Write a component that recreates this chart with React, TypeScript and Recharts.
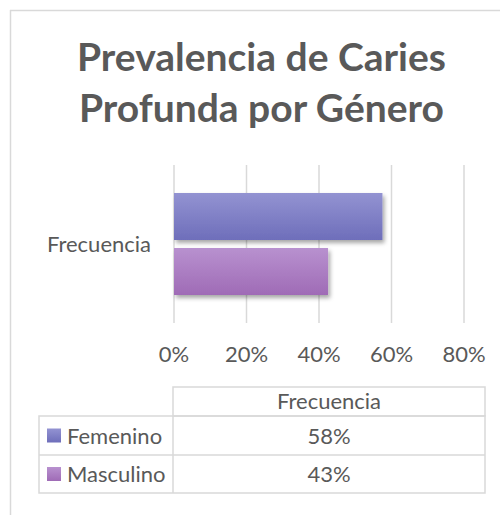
import React from 'react';
import { BarChart, Bar, XAxis, YAxis, CartesianGrid } from 'recharts';

const categories = ['Frecuencia'];
const seriesNames = ['Femenino', 'Masculino'];
const femenino = [57.5];
const masculino = [42.5];
const xTicks = [0, 20, 40, 60, 80];
const titleLines = ['Prevalencia de Caries', 'Profunda por Género'];

const seriesValues = [femenino, masculino];
const seriesColors = [
  { top: '#9393d2', bottom: '#6e6eba', id: 'gradF' },
  { top: '#b891cf', bottom: '#9f6bb6', id: 'gradM' },
];

const data = categories.map((c, i) => ({
  category: c,
  [seriesNames[0]]: femenino[i],
  [seriesNames[1]]: masculino[i],
}));

const FONT = 'Lato, "Open Sans", sans-serif';
const TXT = '#595959';
const GRID = '#d9d9d9';

const makeShape = (gid: string) => (p: any) => (
  <rect x={p.x} y={p.y} width={p.width} height={p.height} fill={`url(#${gid})`} filter="url(#barShadow)" />
);

export default function App() {
  const tableLeft = 39;
  const col1 = 173;
  const tableRight = 485;
  const headerTop = 387;
  const rowTops = [416, 455];
  const rowBottom = 493;
  return (
    <div style={{ position: 'absolute', left: 0, top: 0, width: 500, height: 515, background: '#fff', fontFamily: FONT }}>
      <BarChart
        width={500}
        height={515}
        layout="vertical"
        data={data}
        margin={{ top: 165, right: 36, left: 0, bottom: 162 }}
        barSize={47}
        barGap={8}
      >
        <defs>
          {seriesColors.map((s) => (
            <linearGradient key={s.id} id={s.id} x1="0" y1="0" x2="0" y2="1">
              <stop offset="0%" stopColor={s.top} />
              <stop offset="100%" stopColor={s.bottom} />
            </linearGradient>
          ))}
          <filter id="barShadow" x="-10%" y="-20%" width="130%" height="160%">
            <feDropShadow dx="2" dy="3" stdDeviation="2" floodColor="#000" floodOpacity="0.35" />
          </filter>
        </defs>
        <CartesianGrid horizontal={false} vertical={true} stroke={GRID} strokeWidth={1.5} />
        <XAxis
          type="number"
          domain={[0, 80]}
          ticks={xTicks}
          tickFormatter={(v: number) => `${v}%`}
          axisLine={false}
          tickLine={false}
          tickSize={0}
          tickMargin={23}
          height={30}
          tick={{ fill: TXT, fontSize: 22, fontFamily: FONT }}
        />
        <YAxis
          type="category"
          dataKey="category"
          width={174}
          axisLine={false}
          tickLine={false}
          tickSize={0}
          tickMargin={23}
          tick={{ fill: TXT, fontSize: 22, fontFamily: FONT }}
        />
        {seriesNames.map((n, i) => (
          <Bar key={n} dataKey={n} isAnimationActive={false} shape={makeShape(seriesColors[i].id)} />
        ))}
      </BarChart>
      <svg width={500} height={515} style={{ position: 'absolute', left: 0, top: 0, pointerEvents: 'none' }}>
        <defs>
          {seriesColors.map((s) => (
            <linearGradient key={s.id} id={s.id + 'L'} x1="0" y1="0" x2="0" y2="1">
              <stop offset="0%" stopColor={s.top} />
              <stop offset="100%" stopColor={s.bottom} />
            </linearGradient>
          ))}
        </defs>
        {/* frame */}
        <line x1={10} y1={10.5} x2={500} y2={10.5} stroke={GRID} strokeWidth={1.5} />
        <line x1={10.5} y1={10} x2={10.5} y2={515} stroke={GRID} strokeWidth={1.5} />
        {/* title */}
        {titleLines.map((t, i) => (
          <text key={i} x={261.5} y={71 + i * 51} textAnchor="middle" fill={TXT} fontSize={39} fontWeight="bold" fontFamily={FONT}>
            {t}
          </text>
        ))}
        {/* data table */}
        <g stroke={GRID} strokeWidth={1.5} fill="none">
          <rect x={col1} y={headerTop} width={tableRight - col1} height={rowTops[0] - headerTop} />
          <rect x={tableLeft} y={rowTops[0]} width={tableRight - tableLeft} height={rowBottom - rowTops[0]} />
          <line x1={col1} y1={rowTops[0]} x2={col1} y2={rowBottom} />
          <line x1={tableLeft} y1={rowTops[1]} x2={tableRight} y2={rowTops[1]} />
        </g>
        <text x={(col1 + tableRight) / 2} y={409} textAnchor="middle" fill={TXT} fontSize={22} fontFamily={FONT}>
          {categories[0]}
        </text>
        {seriesNames.map((n, i) => {
          const top = rowTops[i];
          const h = (i === 0 ? rowTops[1] : rowBottom) - top;
          const baseline = top + h / 2 + 8;
          return (
            <g key={n}>
              <rect x={47} y={top + h / 2 - 7} width={14} height={14} fill={`url(#${seriesColors[i].id}L)`} />
              <text x={67} y={baseline} fill={TXT} fontSize={22} fontFamily={FONT}>
                {n}
              </text>
              <text x={(col1 + tableRight) / 2} y={baseline} textAnchor="middle" fill={TXT} fontSize={22} fontFamily={FONT}>
                {`${Math.round(seriesValues[i][0])}%`}
              </text>
            </g>
          );
        })}
      </svg>
    </div>
  );
}
